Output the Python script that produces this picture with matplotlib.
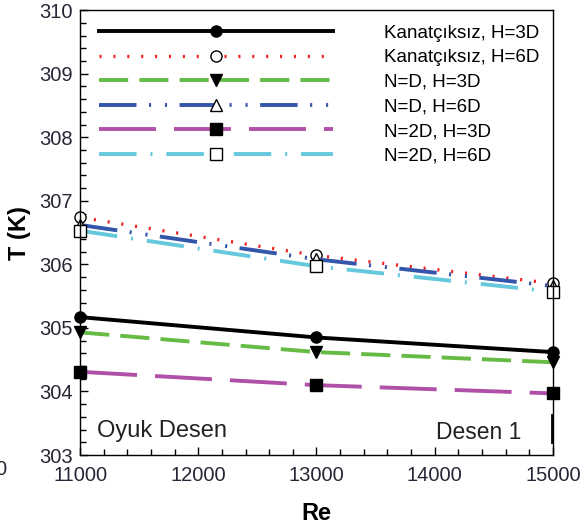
import matplotlib
matplotlib.use('Agg')
import matplotlib.pyplot as plt
from matplotlib.ticker import MultipleLocator

plt.rcParams['font.family'] = ['Liberation Sans', 'DejaVu Sans']
plt.rcParams['lines.scale_dashes'] = False

# data
re = [11000, 13000, 15000]
t_k3 = [305.17, 304.85, 304.62]
t_k6 = [306.74, 306.14, 305.70]
t_nd3 = [304.93, 304.62, 304.46]
t_nd6 = [306.62, 306.08, 305.66]
t_n2d3 = [304.31, 304.10, 303.97]
t_n2d6 = [306.53, 305.97, 305.57]
labels = ['Kanatçıksız, H=3D', 'Kanatçıksız, H=6D', 'N=D, H=3D',
          'N=D, H=6D', 'N=2D, H=3D', 'N=2D, H=6D']

fig = plt.figure(figsize=(5.85, 5.31), dpi=100)
ax = fig.add_axes([0.137, 0.143, 0.808, 0.838])

ms = 8
ax.plot(re, t_k3, '-', color='black', lw=2.8, marker='o', ms=ms,
        mfc='black', mec='black', label=labels[0], clip_on=False)
ax.plot(re, t_k6, color='#ee2222', lw=2.4, ls=(0, (1.5, 8.5)), marker='o', ms=ms,
        mfc='white', mec='black', label=labels[1], clip_on=False)
ax.plot(re, t_nd3, color='#66bb44', lw=2.8, ls=(0, (21, 8)), marker='v', ms=ms,
        mfc='black', mec='black', label=labels[2], clip_on=False)
ax.plot(re, t_nd6, color='#3355aa', lw=2.8, ls=(0, (27, 9, 1.5, 10, 1.5, 9)), marker='^', ms=ms,
        mfc='white', mec='black', label=labels[3], clip_on=False)
ax.plot(re, t_n2d3, color='#b050a8', lw=2.8, ls=(0, (41, 13)), marker='s', ms=ms,
        mfc='black', mec='black', label=labels[4], clip_on=False)
ax.plot(re, t_n2d6, color='#66c8dc', lw=2.8, ls=(0, (27, 10, 1.5, 10)), marker='s', ms=ms,
        mfc='white', mec='black', label=labels[5], clip_on=False)

ax.set_xlim(11000, 15000)
ax.set_ylim(303, 310)
ax.xaxis.set_major_locator(MultipleLocator(1000))
ax.xaxis.set_minor_locator(MultipleLocator(200))
ax.yaxis.set_major_locator(MultipleLocator(1))
ax.yaxis.set_minor_locator(MultipleLocator(0.2))
ax.tick_params(which='both', direction='in', top=False, right=False,
               labelcolor='#262636', width=1)
ax.tick_params(which='major', length=6)
ax.tick_params(which='minor', length=4)
ax.tick_params(axis='x', pad=8)
ax.tick_params(axis='y', pad=5)
for lab in ax.get_xticklabels() + ax.get_yticklabels():
    lab.set_fontsize(14.5)
for s in ax.spines.values():
    s.set_linewidth(1)

ax.set_xlabel('Re', fontsize=17, fontweight='bold', labelpad=12)
ax.set_ylabel('T (K)', fontsize=17, fontweight='bold', labelpad=6)

ax.legend(loc='upper left', frameon=False, fontsize=13.5, handlelength=12.5,
          handletextpad=2.7, labelspacing=0.4, numpoints=1,
          bbox_to_anchor=(0.0, 1.01), borderaxespad=0.6)

ax.text(0.035, 0.04, 'Oyuk Desen', transform=ax.transAxes, fontsize=17, color='#222222')
ax.text(0.752, 0.035, 'Desen 1', transform=ax.transAxes, fontsize=16.5, color='#222222')
ax.axvline(14990, ymin=0.03, ymax=0.09, color='black', lw=2)
fig.text(-0.008, 0.105, '0', fontsize=14.5, color='#262636')

plt.savefig('out.png', dpi=100)
